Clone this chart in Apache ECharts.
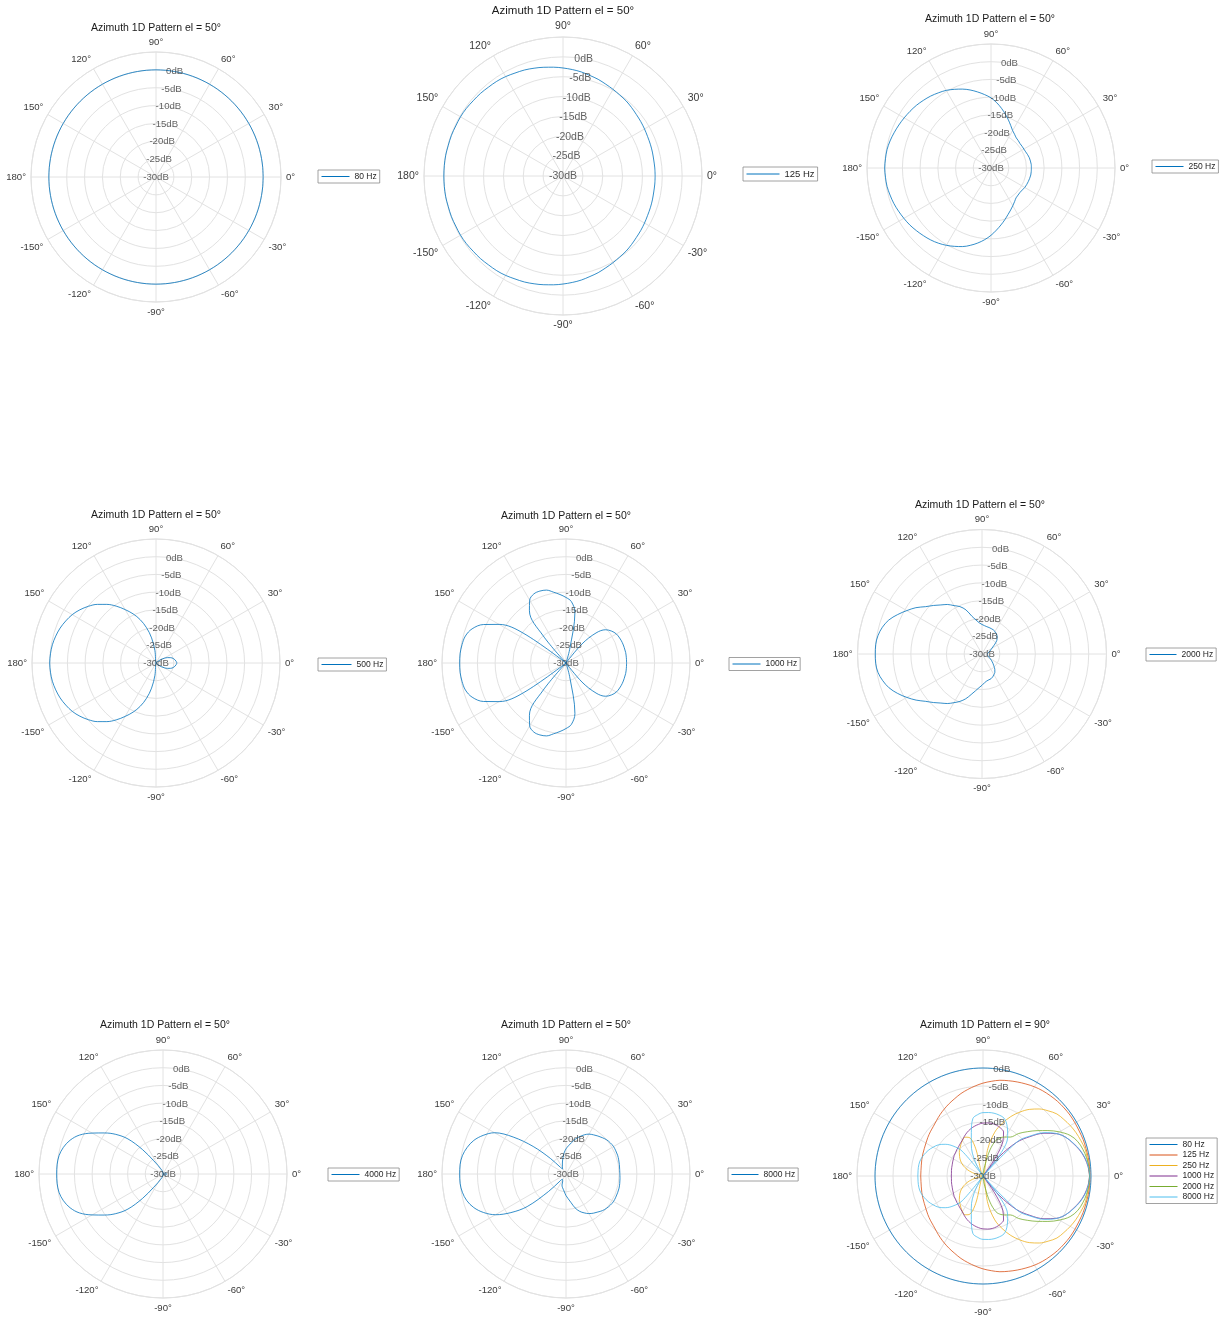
<!DOCTYPE html>
<html><head><meta charset="utf-8">
<script src="https://cdn.jsdelivr.net/npm/echarts@6/dist/echarts.min.js"></script>
<style>html,body{margin:0;padding:0;background:#fff}#c{width:1223px;height:1317px}</style>
</head><body><div id="c"></div><script>
// ---------- data ----------
const angles = [0,5,10,15,20,25,30,35,40,45,50,55,
  60,65,70,75,80,85,90,95,100,105,110,115,
  120,125,130,135,140,145,150,155,160,165,170,175,
  180,185,190,195,200,205,210,215,220,225,230,235,
  240,245,250,255,260,265,270,275,280,285,290,295,
  300,305,310,315,320,325,330,335,340,345,350,355];
const tickDb = [-30,-25,-20,-15,-10,-5,0];

// el = 50 deg, single-frequency panels (dB)
const db80 = [0,0,0,0,0,0,0,0,0,0,0,0,
  0,0,0,0,0,0,0,0,0,0,0,0,
  0,0,0,0,0,0,0,0,0,0,0,0,
  0,0,0,0,0,0,0,0,0,0,0,0,
  0,0,0,0,0,0,0,0,0,0,0,0,
  0,0,0,0,0,0,0,0,0,0,0,0];
const db125 = [-6.8,-6.8,-6.8,-6.7,-6.6,-6.5,-6.3,-6.1,-5.9,-5.6,-5.3,-5.1,
  -4.8,-4.5,-4.1,-3.8,-3.4,-3.1,-2.8,-2.5,-2.2,-1.9,-1.6,-1.4,
  -1.1,-0.9,-0.8,-0.6,-0.5,-0.3,-0.2,-0.2,-0.1,-0.1,0,0,
  0,0,0,-0.1,-0.1,-0.2,-0.2,-0.3,-0.5,-0.6,-0.8,-0.9,
  -1.1,-1.4,-1.6,-1.9,-2.2,-2.5,-2.8,-3.1,-3.4,-3.8,-4.1,-4.5,
  -4.8,-5.1,-5.3,-5.6,-5.9,-6.1,-6.3,-6.5,-6.6,-6.7,-6.8,-6.8];
const db250 = [-18.6,-18.6,-18.7,-18.8,-19.0,-19.2,-19.3,-19.3,-19.3,-19.1,-18.9,-18.4,
  -17.8,-16.8,-15.6,-14.3,-12.9,-11.5,-10.2,-9.2,-8.2,-7.2,-6.3,-5.5,
  -4.7,-4.1,-3.5,-3.0,-2.5,-2.1,-1.7,-1.3,-0.9,-0.5,-0.2,-0.1,
  0,-0.1,-0.2,-0.5,-0.8,-1.2,-1.6,-2.0,-2.5,-3.0,-3.5,-4.1,
  -4.8,-5.6,-6.4,-7.4,-8.5,-9.7,-11.0,-12.4,-13.7,-14.9,-16.0,-16.9,
  -17.7,-18.4,-19.0,-19.2,-19.3,-19.2,-19.0,-18.9,-18.8,-18.7,-18.6,-18.6];
const db500 = [-24.1,-24.3,-24.6,-25.0,-25.6,-26.4,-27.3,-28.2,-29.0,-29.6,-30,-30,
  -30,-30,-30,-30,-30,-30,-30,-26.5,-22.8,-19.7,-17.0,-14.7,
  -12.6,-10.4,-8.4,-6.6,-5.1,-3.8,-2.7,-1.9,-1.2,-0.7,-0.3,-0.1,
  0,-0.1,-0.3,-0.7,-1.2,-1.9,-2.7,-3.8,-5.1,-6.6,-8.4,-10.4,
  -12.6,-14.7,-17.0,-19.7,-22.8,-26.5,-30,-30,-30,-30,-30,-30,
  -30,-30,-30,-29.6,-29.0,-28.2,-27.3,-26.4,-25.6,-25.0,-24.6,-24.3];
const db1000 = [-12.9,-12.9,-12.9,-13.0,-13.1,-13.3,-13.6,-14.3,-15.4,-18.0,-23.0,-30,
  -30,-30,-30,-26.0,-15.5,-12.6,-11.5,-10.6,-9.7,-8.7,-8.4,-8.5,
  -9.5,-12.0,-20.0,-30,-30,-15.5,-8.2,-4.3,-1.8,-0.6,-0.2,0,
  0,0,-0.2,-0.6,-1.8,-4.3,-8.2,-15.5,-30,-30,-20.0,-12.0,
  -9.5,-8.5,-8.4,-8.7,-9.7,-10.6,-11.5,-12.6,-15.5,-26.0,-30,-30,
  -30,-30,-23.0,-18.0,-15.4,-14.3,-13.6,-13.3,-13.1,-13.0,-12.9,-12.9];
const db2000 = [-28.5,-28.4,-28.3,-28.0,-27.7,-27.3,-26.8,-26.0,-24.9,-24.0,-23.4,-23.0,
  -22.7,-22.5,-22.4,-22.3,-22.2,-22.0,-21.7,-21.2,-20.3,-19.0,-16.8,-15.3,
  -14.3,-13.0,-12.0,-10.7,-9.3,-7.3,-5.6,-3.8,-2.1,-1.0,-0.3,0,
  0,0,-0.3,-1.1,-2.2,-3.8,-5.6,-7.4,-9.3,-10.7,-12.0,-13.0,
  -14.2,-15.3,-16.6,-18.2,-19.5,-20.5,-21.2,-21.9,-22.3,-22.5,-22.6,-22.9,
  -23.3,-23.7,-24.4,-25.3,-26.0,-26.7,-27.3,-27.8,-28.1,-28.3,-28.4,-28.5];
const db4000 = [-29.0,-29.0,-29.0,-29.1,-29.2,-29.3,-29.5,-29.6,-29.7,-29.8,-30,-30,
  -30,-30,-30,-30,-30,-30,-30,-29.8,-29.4,-29.0,-28.6,-28.2,
  -27.2,-25.4,-21.0,-16.0,-12.6,-9.8,-6.9,-4.0,-2.1,-0.9,-0.2,0,
  0,0,-0.2,-0.9,-2.1,-4.0,-6.9,-9.8,-12.6,-16.0,-21.0,-25.4,
  -27.2,-28.2,-28.6,-29.0,-29.4,-29.8,-30,-30,-30,-30,-30,-30,
  -30,-30,-30,-29.8,-29.7,-29.6,-29.5,-29.3,-29.2,-29.1,-29.0,-29.0];
const db8000 = [-14.8,-14.8,-14.7,-14.6,-14.5,-14.5,-14.5,-14.7,-15.0,-15.5,-16.0,-16.5,
  -17.0,-17.8,-18.8,-19.8,-21.0,-22.0,-22.9,-24.0,-25.2,-26.2,-27.0,-27.6,
  -28.0,-28.3,-27.5,-23.8,-17.9,-11.8,-6.7,-4.2,-2.3,-1.1,-0.3,0,
  0,0,-0.3,-1.0,-2.3,-4.3,-7.0,-11.0,-15.7,-23.0,-27.5,-28.2,
  -28.3,-27.8,-26.7,-26.1,-25.6,-24.9,-23.9,-23.0,-21.8,-20.1,-18.8,-17.9,
  -17.1,-16.5,-16.0,-15.4,-15.0,-14.7,-14.5,-14.5,-14.5,-14.5,-14.6,-14.7];

// el = 90 deg, combined panel (dB)
const e80 = [0,0,0,0,0,0,0,0,0,0,0,0,
  0,0,0,0,0,0,0,0,0,0,0,0,
  0,0,0,0,0,0,0,0,0,0,0,0,
  0,0,0,0,0,0,0,0,0,0,0,0,
  0,0,0,0,0,0,0,0,0,0,0,0,
  0,0,0,0,0,0,0,0,0,0,0,0];
const e125 = [-0.3,-0.3,-0.3,-0.4,-0.4,-0.5,-0.5,-0.5,-0.6,-0.7,-0.9,-1.1,
  -1.4,-1.8,-2.2,-2.6,-3.0,-3.6,-4.2,-4.9,-5.6,-6.3,-7.1,-7.8,
  -8.5,-9.2,-9.9,-10.5,-10.9,-11.3,-11.7,-12.0,-12.2,-12.4,-12.6,-12.7,
  -12.7,-12.7,-12.6,-12.4,-12.2,-12.0,-11.7,-11.3,-10.9,-10.5,-9.9,-9.2,
  -8.5,-7.8,-7.1,-6.3,-5.6,-4.9,-4.2,-3.6,-3.0,-2.6,-2.2,-1.8,
  -1.4,-1.1,-0.9,-0.7,-0.6,-0.5,-0.5,-0.5,-0.4,-0.4,-0.3,-0.3];
const e250 = [-0.4,-0.5,-0.6,-0.7,-1.1,-1.5,-2.0,-2.6,-3.2,-4.4,-5.7,-7.4,
  -9.5,-11.8,-14.5,-17.4,-22.3,-30,-30,-30,-30,-22,-18.6,-18.1,
  -18.6,-19.3,-20.0,-20.7,-21.5,-22.3,-23.3,-24.5,-26,-28,-30,-30,
  -30,-30,-30,-28,-26,-24.5,-23.3,-22.3,-21.5,-20.7,-20.0,-19.3,
  -18.6,-18.1,-18.6,-22,-30,-30,-30,-30,-22.3,-17.4,-14.5,-11.8,
  -9.5,-7.4,-5.7,-4.4,-3.2,-2.6,-2.0,-1.5,-1.1,-0.7,-0.6,-0.5];
const e1000 = [-0.4,-0.7,-1.3,-2.2,-3.4,-4.6,-6.5,-9.3,-13.0,-16.8,-23,-30,
  -19,-16.5,-15.8,-15.4,-15.2,-15.2,-15.3,-15.6,-16.0,-16.5,-17.1,-17.8,
  -18.5,-19.0,-19.4,-19.7,-20.0,-20.2,-20.5,-20.7,-20.9,-21.0,-21.1,-21.2,
  -21.2,-21.2,-21.1,-21.0,-20.9,-20.7,-20.5,-20.2,-20.0,-19.7,-19.4,-19.0,
  -18.5,-17.8,-17.1,-16.5,-16.0,-15.6,-15.3,-15.2,-15.2,-15.4,-15.8,-16.5,
  -19,-30,-23,-16.8,-13.0,-9.3,-6.5,-4.6,-3.4,-2.2,-1.3,-0.7];
const e2000 = [-0.4,-0.5,-0.8,-1.3,-2.0,-3.3,-5.5,-8.0,-10.4,-12.6,-14.6,-16.8,
  -17.5,-18.2,-19.4,-22.5,-27,-30,-30,-30,-30,-30,-30,-30,
  -30,-30,-30,-30,-30,-30,-30,-30,-30,-30,-30,-30,
  -30,-30,-30,-30,-30,-30,-30,-30,-30,-30,-30,-30,
  -30,-30,-30,-30,-30,-30,-30,-30,-27,-22.5,-19.4,-18.2,
  -17.5,-16.8,-14.6,-12.6,-10.4,-8.0,-5.5,-3.3,-2.0,-1.3,-0.8,-0.5];
const e8000 = [-0.3,-0.6,-1.2,-2.1,-3.3,-4.6,-6.4,-9.0,-12.6,-16.5,-30,-18.5,
  -16.3,-14.3,-12.9,-12.5,-12.3,-12.3,-12.4,-12.9,-13.8,-17.5,-20.5,-23,
  -26.5,-30,-21,-18.2,-16.3,-14.9,-14.0,-13.2,-12.6,-12.1,-11.9,-11.9,
  -11.9,-11.9,-11.9,-12.1,-12.6,-13.2,-14.0,-14.9,-16.3,-18.2,-21,-30,
  -26.5,-23,-20.5,-17.5,-13.8,-12.9,-12.4,-12.3,-12.3,-12.5,-12.9,-14.3,
  -16.3,-18.5,-30,-16.5,-12.6,-9.0,-6.4,-4.6,-3.3,-2.1,-1.2,-0.6];

// ---------- layout / style ----------
const FONT = '"Liberation Sans", Arial, Helvetica, sans-serif';
const GRID = '#e2e2e2';
const C = {blue:'#0072BD', orange:'#D95319', yellow:'#EDB120', purple:'#7E2F8E', green:'#77AC30', cyan:'#4DBEEE'};
const T50 = 'Azimuth 1D Pattern el = 50°';
const T90 = 'Azimuth 1D Pattern el = 90°';
const panels = [
  {cx:156, cy:177, r:125, tx:156, ty:28, title:T50, fs:9.6, tfs:10.5, lg:[318,170], lfs:8.5, iw:28, s:[['80 Hz', db80, C.blue]]},
  {cx:563, cy:176, r:139, tx:563, ty:11, title:T50, fs:10.5, tfs:11.5, lg:[743,167], lfs:9.5, iw:33, s:[['125 Hz', db125, C.blue]]},
  {cx:991, cy:168, r:124, tx:990, ty:19, title:T50, fs:9.6, tfs:10.5, lg:[1152,160], lfs:8.5, iw:28, s:[['250 Hz', db250, C.blue]]},
  {cx:156, cy:663, r:124, tx:156, ty:515, title:T50, fs:9.6, tfs:10.5, lg:[318,658], lfs:8.5, iw:30, s:[['500 Hz', db500, C.blue]]},
  {cx:566, cy:663, r:124, tx:566, ty:516, title:T50, fs:9.6, tfs:10.5, lg:[729,657.5], lfs:8.5, iw:28, s:[['1000 Hz', db1000, C.blue]]},
  {cx:982, cy:654, r:124.5, tx:980, ty:505, title:T50, fs:9.6, tfs:10.5, lg:[1146,648], lfs:8.5, iw:27, s:[['2000 Hz', db2000, C.blue]]},
  {cx:163, cy:1174, r:124, tx:165, ty:1025, title:T50, fs:9.6, tfs:10.5, lg:[328,1168], lfs:8.5, iw:28, s:[['4000 Hz', db4000, C.blue]]},
  {cx:566, cy:1174, r:124, tx:566, ty:1025, title:T50, fs:9.6, tfs:10.5, lg:[728,1168], lfs:8.5, iw:27, s:[['8000 Hz', db8000, C.blue]]},
  {cx:983, cy:1176, r:126, tx:985, ty:1025, title:T90, fs:9.6, tfs:10.5, lg:[1146,1138], lfs:8.5, iw:28, s:[
    ['80 Hz', e80, C.blue], ['125 Hz', e125, C.orange], ['250 Hz', e250, C.yellow],
    ['1000 Hz', e1000, C.purple], ['2000 Hz', e2000, C.green], ['8000 Hz', e8000, C.cyan]]}
];

const option = {backgroundColor:'#fff', animation:false, title:[], polar:[], angleAxis:[], radiusAxis:[], legend:[], series:[]};
panels.forEach((p, i) => {
  option.polar.push({center:[p.cx, p.cy], radius:p.r});
  option.title.push({text:p.title, left:p.tx, top:p.ty - (p.tfs + 2) / 2, textAlign:'center', padding:0,
    textStyle:{fontSize:p.tfs, lineHeight:p.tfs + 2, fontWeight:'normal', color:'#1a1a1a', fontFamily:FONT}});
  option.angleAxis.push({polarIndex:i, type:'value', min:0, max:360, interval:30, startAngle:0, clockwise:false,
    axisLine:{show:true, lineStyle:{color:GRID, width:1}}, axisTick:{show:false},
    splitLine:{show:true, lineStyle:{color:GRID, width:1}},
    axisLabel:{show:true, margin:5, fontSize:p.fs, color:'#3a3a3a', fontFamily:FONT,
      formatter: v => (v >= 360 ? '' : (v > 180 ? v - 360 : v) + '°')}});
  option.radiusAxis.push({polarIndex:i, type:'value', min:-30, max:5, interval:5,
    axisLine:{show:false}, axisTick:{show:false}, axisLabel:{show:false},
    splitLine:{show:true, lineStyle:{color:GRID, width:1}}});
  const legendData = [];
  p.s.forEach(([nm, vals, col]) => {
    const id = 'P' + i + '|' + nm;
    legendData.push({name:id, lineStyle:{color:col, width:1, opacity:1}, itemStyle:{opacity:0}});
    const data = angles.map((a, k) => [vals[k], a]);
    data.push([vals[0], 360]);
    option.series.push({type:'line', name:id, coordinateSystem:'polar', polarIndex:i, data,
      symbol:'none', showSymbol:false, smooth:0.35, silent:true, z:3,
      lineStyle:{width:0.8, color:col}, itemStyle:{color:col}});
  });
  option.series.push({type:'scatter', name:'P' + i + '|ticks', coordinateSystem:'polar', polarIndex:i,
    data: tickDb.map(v => [v, 80]), symbolSize:1, itemStyle:{color:'rgba(0,0,0,0)'}, silent:true, z:4,
    label:{show:true, position:'inside', formatter: q => q.value[0] + 'dB', fontSize:p.fs, color:'#3a3a3a', fontFamily:FONT}});
  option.legend.push({left:p.lg[0], top:p.lg[1], orient:'vertical', selectedMode:false,
    padding:[2,3,2,3], itemWidth:p.iw, itemHeight:10, itemGap:1.5,
    borderColor:'#8a8a8a', borderWidth:0.8, backgroundColor:'#fff',
    itemStyle:{opacity:0, color:'rgba(0,0,0,0)', borderWidth:0},
    textStyle:{fontSize:p.lfs, color:'#262626', fontFamily:FONT},
    formatter: n => n.split('|')[1], data:legendData});
});
const chart = echarts.init(document.getElementById('c'), null, {renderer:'canvas'});
chart.setOption(option);
</script></body></html>
